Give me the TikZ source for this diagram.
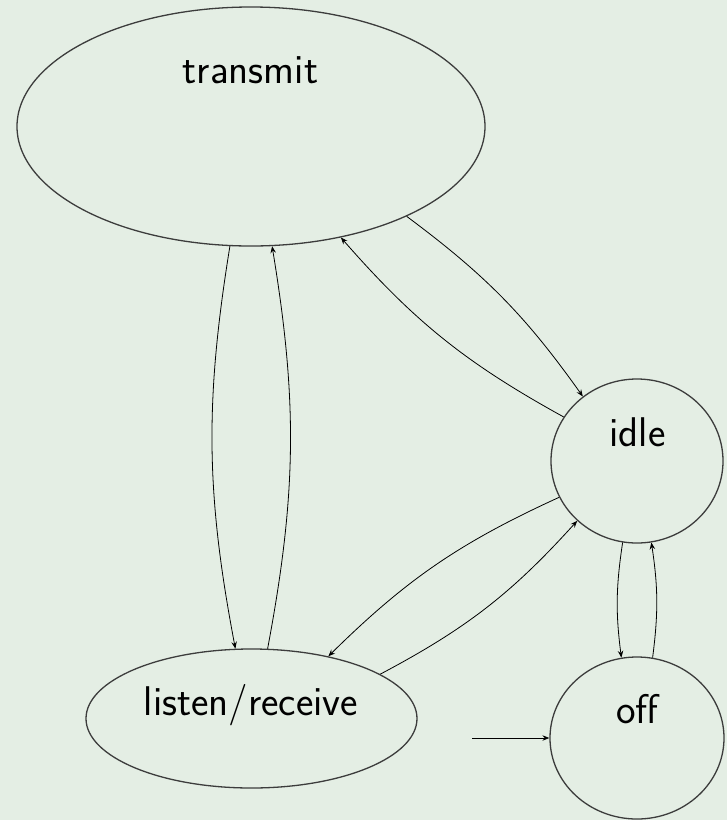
\documentclass[tikz,border=0pt]{standalone}
\usetikzlibrary{shapes.geometric,arrows.meta}
\definecolor{paper}{HTML}{E4EEE4}
\definecolor{stategray}{HTML}{3C3C3C}
\begin{document}
\begin{tikzpicture}[x=1pt,y=-1pt,
  state/.style={ellipse,draw=stategray,line width=1.3pt,inner sep=0pt},
  statetext/.style={anchor=base,inner sep=0pt,font=\sffamily\fontsize{41.5}{46}\selectfont},
  trans/.style={-{Stealth[length=7pt,width=5.5pt,inset=2.5pt]},line width=0.8pt,black}]
  % canvas
  \fill[paper] (0,0) rectangle (727,820);
  \useasboundingbox (0,0) rectangle (727,820);

  % states
  \node[state,minimum width=468pt,minimum height=239pt] (transmit) at (251,126.5) {};
  \node[state,minimum width=172pt,minimum height=164pt] (idle) at (637,461) {};
  \node[state,minimum width=174pt,minimum height=162pt] (off) at (637,738) {};
  \node[state,minimum width=331pt,minimum height=139pt] (listen) at (251.5,718.5) {};

  % state names
  \node[statetext] (transmit-name) at (250.5,83.5) {transmit};
  \node[statetext] (idle-name) at (637.5,446) {idle};
  \node[statetext] (off-name) at (637.5,723) {off};
  \node[statetext] (listen-name) at (251,715) {listen/receive};

  % transitions
  \draw[trans] (transmit.260) to[bend right=10] (listen.103);
  \draw[trans] (listen.77.6) to[bend right=10] (transmit.280);
  \draw[trans] (transmit.330) to[bend left=9] (idle.130);
  \draw[trans] (idle.149) to[bend left=10] (transmit.309);
  \draw[trans] (idle.205) to[bend right=10] (listen.39.6);
  \draw[trans] (listen.19.7) to[bend right=10] (idle.225);
  \draw[trans] (idle.260) to[bend right=8] (off.101);
  \draw[trans] (off.79.5) to[bend right=8] (idle.280);

  % initial state marker
  \coordinate (start) at (472,738);
  \draw[trans] (start) -- (off.west);
\end{tikzpicture}
\end{document}
